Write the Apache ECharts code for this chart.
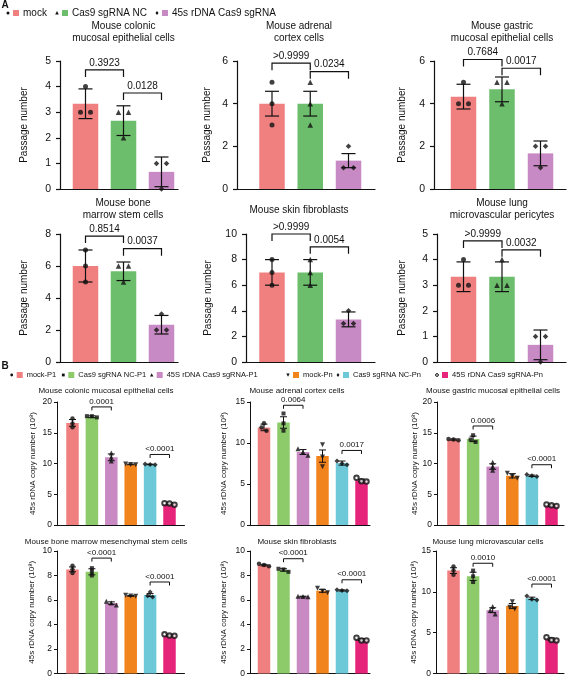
<!doctype html>
<html>
<head>
    <meta charset="utf-8">
    <title>45S rDNA passage and copy number</title>
    <style>
        html, body { margin: 0; padding: 0; background: #fff; }
        #chart { width: 567px; height: 680px; }
    </style>
</head>
<body>
<div id="chart"></div>
<script src="https://cdn.jsdelivr.net/npm/echarts@6/dist/echarts.min.js"></script>
<script>
    // ---------- panel A : passage number ----------
    var groupsA = ['mock', 'Cas9 sgRNA NC', '45s rDNA Cas9 sgRNA'];
    var titlesA = ['Mouse colonic\nmucosal epithelial cells', 'Mouse adrenal\ncortex cells',
        'Mouse gastric\nmucosal epithelial cells', 'Mouse bone\nmarrow stem cells',
        'Mouse skin fibroblasts', 'Mouse lung\nmicrovascular pericytes'];
    var yMaxA = [5, 6, 6, 8, 10, 5];
    var yStepA = [1, 2, 2, 2, 2, 1];
    var meanA = [[3.33, 2.67, 0.67], [4, 4, 1.33], [4.33, 4.67, 1.67],
        [6, 5.67, 2.33], [7, 7, 3.33], [3.33, 3.33, 0.67]];
    var errA = [[0.58, 0.58, 0.58], [0.58, 0.58, 0.33], [0.58, 0.58, 0.58],
        [1, 0.58, 0.58], [1, 1, 0.58], [0.58, 0.58, 0.58]];
    var ptsA = [
        [[4, 3, 3], [3, 3, 2], [1, 1, 0]],
        [[5, 4, 3], [5, 4, 3], [2, 1, 1]],
        [[5, 4, 4], [5, 5, 4], [2, 2, 1]],
        [[7, 6, 5], [6, 6, 5], [3, 2, 2]],
        [[8, 7, 6], [8, 7, 6], [4, 3, 3]],
        [[4, 3, 3], [4, 3, 3], [1, 1, 0]]
    ];
    var pA = [['0.3923', '0.0128'], ['>0.9999', '0.0234'], ['0.7684', '0.0017'],
        ['0.8514', '0.0037'], ['>0.9999', '0.0054'], ['>0.9999', '0.0032']];
    var brTopA = [[4.65, 3.75], [5.9, 5.5], [6.07, 5.66], [7.87, 7.08], [10.0, 9.0], [4.73, 4.38]];
    var pairsA = [[0, 1], [1, 2]];

    // ---------- panel B : 45s rDNA copy number ----------
    var groupsB = ['mock-P1', 'Cas9 sgRNA NC-P1', '45S rDNA Cas9 sgRNA-P1',
        'mock-Pn', 'Cas9 sgRNA NC-Pn', '45S rDNA Cas9 sgRNA-Pn'];
    var titlesB = ['Mouse colonic mucosal epithelial cells', 'Mouse adrenal cortex cells',
        'Mouse gastric mucosal epithelial cells', 'Mouse bone marrow mesenchymal stem cells',
        'Mouse skin fibroblasts', 'Mouse lung microvascular cells'];
    var yMaxB = [20, 15, 20, 10, 10, 15];
    var yStepB = [5, 5, 5, 2, 2, 5];
    var meanB = [
        [16.6, 17.6, 11.0, 9.85, 9.85, 3.45],
        [11.9, 12.5, 8.9, 8.4, 7.55, 5.45],
        [13.9, 14.0, 9.5, 8.0, 8.0, 3.2],
        [8.5, 8.3, 5.75, 6.33, 6.4, 3.12],
        [8.85, 8.45, 6.28, 6.75, 6.78, 2.77],
        [12.6, 11.9, 7.75, 8.27, 9.2, 4.2]
    ];
    var errB = [
        [0.55, 0.15, 0.55, 0.05, 0.05, 0.12],
        [0.4, 0.7, 0.3, 0.75, 0.25, 0.15],
        [0.1, 0.45, 0.45, 0.35, 0.12, 0.1],
        [0.2, 0.25, 0.1, 0.03, 0.12, 0.04],
        [0.06, 0.1, 0.03, 0.12, 0.05, 0.08],
        [0.35, 0.5, 0.3, 0.3, 0.15, 0.15]
    ];
    var ptsB = [
        [[17.3, 16.5, 15.9], [17.5, 17.7, 17.7], [11.7, 11.0, 10.4], [9.9, 9.8, 9.85], [9.85, 9.8, 9.9], [3.55, 3.5, 3.3]],
        [[12.4, 11.9, 11.5], [13.6, 12.4, 11.5], [9.3, 8.9, 8.5], [9.8, 8.3, 7.1], [7.8, 7.5, 7.35], [5.75, 5.35, 5.3]],
        [[14.0, 13.9, 13.8], [14.6, 13.9, 13.5], [10.2, 9.5, 8.9], [8.4, 7.9, 7.6], [8.2, 8.0, 7.9], [3.35, 3.2, 3.1]],
        [[8.8, 8.5, 8.2], [8.6, 8.3, 8.0], [5.9, 5.75, 5.6], [6.38, 6.33, 6.3], [6.65, 6.35, 6.25], [3.2, 3.1, 3.08]],
        [[8.95, 8.85, 8.75], [8.55, 8.5, 8.3], [6.3, 6.28, 6.27], [6.95, 6.72, 6.6], [6.83, 6.78, 6.75], [2.92, 2.7, 2.7]],
        [[13.1, 12.6, 12.1], [12.6, 11.9, 11.2], [8.2, 7.7, 7.3], [8.8, 8.1, 7.9], [9.5, 9.1, 9.0], [4.45, 4.1, 4.05]]
    ];
    var pB = [['0.0001', '<0.0001'], ['0.0064', '0.0017'], ['0.0006', '<0.0001'],
        ['<0.0001', '<0.0001'], ['<0.0001', '<0.0001'], ['0.0010', '<0.0001']];
    var brTopB = [[19.2, 11.47], [14.6, 9.09], [16.1, 9.8], [9.42, 7.47], [9.37, 7.65], [13.5, 10.95]];
    var pairsB = [[1, 2], [4, 5]];

    // ---------- layout (px): axisLeft, firstCenter, step, axisRight, top, bottom, nameGap ----------
    var layoutA = [
        [60, 85.5, 38, 178, 61, 189, 31],
        [237, 272, 38.25, 375, 61, 189, 25],
        [434, 463.5, 38.5, 566, 61, 189, 27],
        [60, 85.5, 38, 178, 234, 362, 31],
        [246, 272, 38.25, 375, 234, 362, 33],
        [437, 463.5, 38.5, 566, 234, 362, 30]
    ];
    var layoutB = [
        [57, 72.5, 19.4, 184.5, 402, 525, 20],
        [250, 264, 19.5, 370, 402, 525, 22],
        [437, 453.5, 19.6, 564, 402, 525, 17],
        [57, 72.5, 19.4, 184.5, 551, 673.5, 21],
        [250, 264, 19.5, 370, 551, 673.5, 22],
        [436, 453.5, 19.6, 564, 551, 673.5, 17]
    ];
    var titlePosA = [[123.5, 20], [299, 20], [502, 20], [123, 197], [299, 204], [502, 197]];
    var titlePosB = [[106, 386], [297, 386], [493, 386], [106, 537], [297, 537], [488, 537]];
    var legendXA = [8, 57, 157];
    var legendXB = [11.7, 63.3, 151.7, 288, 338, 437];

    var FONT = '"Liberation Sans", Arial, Helvetica, sans-serif';
    var colorsA = ['#F08080', '#6CBE6C', '#C88AC4'];
    var colorsB = ['#F08080', '#8DCB6A', '#C98AC3', '#F2841E', '#6DC8D8', '#E6247A'];
    var symMap = {
        circle: 'circle', rect: 'rect', triangle: 'triangle', diamond: 'diamond',
        invTriangle: 'path://M0,0L10,0L5,9Z', emptyCircle: 'emptyCircle'
    };

    var styleA = {
        font: 10, legendFont: 10, lw: 1.2, tick: 4, labelMargin: 9, barW: 25.5, cap: 14, elw: 1.2,
        leg: 7, tgap: 2, step: 10, thr: 5, yName: 'Passage number',
        marks: ['circle', 'triangle', 'diamond'], sizes: [5, 5.5, 5.5], colors: colorsA
    };
    var styleB = {
        font: 8, legendFont: 7.5, lw: 1, tick: 3, labelMargin: 5, barW: 12.5, cap: 7, elw: 1,
        leg: 3.5, tgap: 1.5, step: 5, thr: 3.5, yName: '45s rDNA copy number (10\u2078)',
        marks: ['circle', 'rect', 'triangle', 'invTriangle', 'diamond', 'emptyCircle'],
        sizes: [4.5, 4, 5, 5, 5, 4.5], colors: colorsB
    };

    var grids = [], xAxes = [], yAxes = [], series = [], titles = [], graphics = [];

    // spread points that sit on (almost) the same height, like a column scatter
    function spread(vals, pxPerUnit, step, thr) {
        var idx = vals.map(function (v, i) { return i; })
            .sort(function (a, b) { return vals[b] - vals[a]; });
        var offs = vals.map(function () { return 0; });
        var groups = [[idx[0]]];
        for (var j = 1; j < idx.length; j++) {
            var g = groups[groups.length - 1];
            if ((vals[g[g.length - 1]] - vals[idx[j]]) * pxPerUnit < thr) g.push(idx[j]);
            else groups.push([idx[j]]);
        }
        groups.forEach(function (g) {
            g.forEach(function (i, n) { offs[i] = (n - (g.length - 1) / 2) * step; });
        });
        return offs;
    }

    function addChart(L, yMax, yStep, means, errs, pts, pvals, brTops, pairs, title, tpos, s) {
        var k = grids.length;
        var ax = L[0], c0 = L[1], st = L[2], ar = L[3], top = L[4], bot = L[5];
        var pxPerUnit = (bot - top) / yMax;
        grids.push({left: ax, top: top, width: ar - ax, height: bot - top});
        xAxes.push({
            type: 'value', gridIndex: k, min: -(c0 - ax) / st, max: (ar - c0) / st,
            axisLine: {show: true, onZero: false, lineStyle: {color: '#111', width: s.lw}},
            axisTick: {show: false}, axisLabel: {show: false}, splitLine: {show: false}
        });
        yAxes.push({
            type: 'value', gridIndex: k, min: 0, max: yMax, interval: yStep,
            name: s.yName, nameLocation: 'middle', nameGap: L[6],
            nameTextStyle: {fontSize: s.font, color: '#111', fontFamily: FONT},
            axisLine: {show: true, onZero: false, lineStyle: {color: '#111', width: s.lw}},
            axisTick: {show: true, length: s.tick, lineStyle: {color: '#111', width: s.lw}},
            axisLabel: {fontSize: s.font + 0.5, color: '#111', margin: s.labelMargin, fontFamily: FONT},
            splitLine: {show: false}
        });
        titles.push({
            text: title, left: tpos[0], top: tpos[1], textAlign: 'center', padding: 0,
            textStyle: {fontSize: s.font, fontWeight: 'normal', color: '#111', fontFamily: FONT,
                lineHeight: s.font + 2}
        });
        // bars
        series.push({
            type: 'bar', xAxisIndex: k, yAxisIndex: k, barWidth: s.barW, z: 2,
            data: means.map(function (v, i) {
                return {value: [i, v], itemStyle: {color: s.colors[i]}};
            })
        });
        // error bars
        series.push({
            type: 'custom', xAxisIndex: k, yAxisIndex: k, z: 3, clip: false,
            data: means.map(function (v, i) { return [i, v - errs[i], v + errs[i]]; }),
            renderItem: function (params, api) {
                var lo = api.coord([api.value(0), api.value(1)]);
                var hi = api.coord([api.value(0), api.value(2)]);
                var w = s.cap / 2, ls = {stroke: '#111', lineWidth: s.elw};
                return {
                    type: 'group', children: [
                        {type: 'line', shape: {x1: lo[0], y1: lo[1], x2: hi[0], y2: hi[1]}, style: ls},
                        {type: 'line', shape: {x1: hi[0] - w, y1: hi[1], x2: hi[0] + w, y2: hi[1]}, style: ls},
                        {type: 'line', shape: {x1: lo[0] - w, y1: lo[1], x2: lo[0] + w, y2: lo[1]}, style: ls}
                    ]
                };
            }
        });
        // replicate points
        var pdata = [];
        pts.forEach(function (g, i) {
            var offs = spread(g, pxPerUnit, s.step, s.thr);
            g.forEach(function (v, j) {
                pdata.push({
                    value: [i, v], symbol: symMap[s.marks[i]], symbolSize: s.sizes[i],
                    symbolOffset: [offs[j], 0],
                    itemStyle: {color: '#111', borderColor: '#111', borderWidth: s.marks[i] === 'emptyCircle' ? 1 : 0}
                });
            });
        });
        series.push({type: 'scatter', xAxisIndex: k, yAxisIndex: k, z: 4, data: pdata});
        // significance brackets
        series.push({
            type: 'custom', xAxisIndex: k, yAxisIndex: k, z: 5, clip: false,
            data: pairs.map(function (p, b) { return [p[0], p[1], brTops[b]]; }),
            renderItem: function (params, api) {
                var a = api.coord([api.value(0), api.value(2)]);
                var b = api.coord([api.value(1), api.value(2)]);
                return {
                    type: 'group', children: [
                        {
                            type: 'polyline',
                            shape: {points: [[a[0], a[1] + s.leg], [a[0], a[1]], [b[0], b[1]], [b[0], b[1] + s.leg]]},
                            style: {stroke: '#111', fill: null, lineWidth: s.lw}
                        },
                        {
                            type: 'text', x: (a[0] + b[0]) / 2, y: a[1] - s.tgap,
                            style: {
                                text: pvals[params.dataIndex], fontSize: s.font, fontFamily: FONT, fill: '#111',
                                align: 'center', verticalAlign: 'bottom',
                                textAlign: 'center', textVerticalAlign: 'bottom'
                            }
                        }
                    ]
                };
            }
        });
    }

    for (var i = 0; i < 6; i++) {
        addChart(layoutA[i], yMaxA[i], yStepA[i], meanA[i], errA[i], ptsA[i], pA[i], brTopA[i], pairsA,
            titlesA[i], titlePosA[i], styleA);
    }
    for (var j = 0; j < 6; j++) {
        addChart(layoutB[j], yMaxB[j], yStepB[j], meanB[j], errB[j], ptsB[j], pB[j], brTopB[j], pairsB,
            titlesB[j], titlePosB[j], styleB);
    }

    // legends and panel letters
    function mark(kind, cx, cy, r) {
        var f = {fill: '#111'};
        if (kind === 'circle') return {type: 'circle', shape: {cx: cx, cy: cy, r: r}, style: f};
        if (kind === 'emptyCircle') return {type: 'circle', shape: {cx: cx, cy: cy, r: r}, style: {fill: '#fff', stroke: '#111', lineWidth: 1}};
        if (kind === 'rect') return {type: 'rect', shape: {x: cx - r, y: cy - r, width: 2 * r, height: 2 * r}, style: f};
        if (kind === 'triangle') return {type: 'polygon', shape: {points: [[cx, cy - r * 1.3], [cx + r * 1.2, cy + r], [cx - r * 1.2, cy + r]]}, style: f};
        if (kind === 'invTriangle') return {type: 'polygon', shape: {points: [[cx - r * 1.2, cy - r], [cx + r * 1.2, cy - r], [cx, cy + r * 1.3]]}, style: f};
        return {type: 'polygon', shape: {points: [[cx, cy - r * 1.4], [cx + r, cy], [cx, cy + r * 1.4], [cx - r, cy]]}, style: f};
    }
    function legend(names, s, xs, y, r) {
        names.forEach(function (n, i) {
            var x = xs[i];
            graphics.push(mark(s.marks[i], x, y, r));
            graphics.push({type: 'rect', shape: {x: x + 5, y: y - 3, width: 6, height: 6}, style: {fill: s.colors[i]}});
            graphics.push({
                type: 'text', x: x + 15, y: y,
                style: {text: n, fontSize: s.legendFont, fontFamily: FONT, fill: '#111',
                    verticalAlign: 'middle', textVerticalAlign: 'middle'}
            });
        });
    }
    legend(groupsA, styleA, legendXA, 13, 1.5);
    legend(groupsB, styleB, legendXB, 375, 1.4);
    graphics.push({type: 'text', x: 1.5, y: 0, style: {text: 'A', fontSize: 10, fontWeight: 'bold', fontFamily: FONT, fill: '#111'}});
    graphics.push({type: 'text', x: 1.5, y: 361, style: {text: 'B', fontSize: 10, fontWeight: 'bold', fontFamily: FONT, fill: '#111'}});

    var myChart = echarts.init(document.getElementById('chart'), null, {renderer: 'canvas'});
    myChart.setOption({
        animation: false,
        backgroundColor: '#fff',
        textStyle: {fontFamily: FONT},
        title: titles,
        grid: grids,
        xAxis: xAxes,
        yAxis: yAxes,
        series: series,
        graphic: {elements: graphics}
    });
</script>
</body>
</html>
